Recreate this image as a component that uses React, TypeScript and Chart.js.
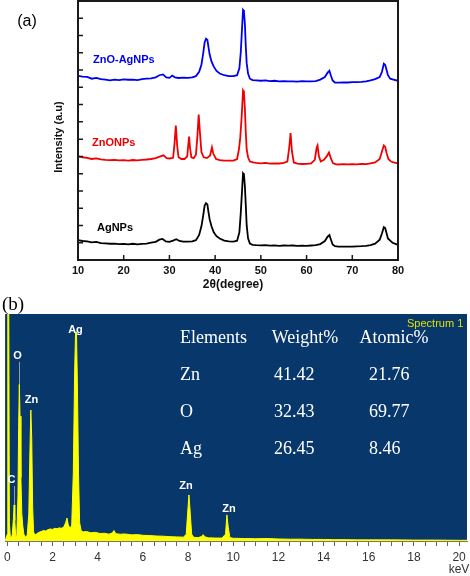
import React, { useEffect, useRef } from 'react';
import { Chart, registerables } from 'chart.js';
Chart.register(...registerables);

// ---------- Panel (a): XRD patterns (2θ in degrees, intensity in a.u.) ----------
const xrdTwoThetaRange = [10, 80];
const xrdSeriesNames = ['ZnO-AgNPs', 'ZnONPs', 'AgNPs'];

const znoAgNPs: [number, number][] = [
  [10, 10.17], [11, 10.12], [12, 10.1], [13, 10.0], [14, 10.05], [15, 9.98], [16, 9.95], [17, 9.9],
  [18, 9.95], [19, 9.92], [20, 9.96], [21, 9.94], [22, 9.95], [23, 9.92], [24, 9.98], [25, 10.0],
  [26, 10.02], [27, 10.08], [27.8, 10.2], [28.6, 10.25], [29.3, 10.08], [30, 10.05], [30.6, 10.18],
  [31.2, 10.08], [32, 10.04], [33, 10.06], [34, 10.05], [35, 10.08], [35.8, 10.15], [36.5, 10.4],
  [37.0, 10.8], [37.4, 11.5], [37.7, 12.1], [38.0, 12.31], [38.3, 12.25], [38.5, 11.9], [38.8, 11.4],
  [39.2, 11.0], [39.7, 10.7], [40.3, 10.45], [41, 10.3], [42, 10.2], [43, 10.15], [44, 10.15],
  [44.8, 10.2], [45.3, 10.6], [45.6, 11.5], [45.9, 13.0], [46.1, 13.98], [46.3, 13.9], [46.5, 13.2],
  [46.7, 11.9], [46.9, 10.9], [47.2, 10.3], [47.6, 10.0], [48.2, 9.92], [49, 9.9], [50, 9.88],
  [51, 9.9], [52, 9.86], [53, 9.88], [54, 9.85], [55, 9.86], [56, 9.84], [57, 9.85], [58, 9.83],
  [59, 9.86], [60, 9.84], [61, 9.85], [62, 9.86], [63, 9.95], [64, 10.1], [64.6, 10.35], [65.0, 10.46],
  [65.3, 10.2], [65.7, 9.9], [66.2, 9.78], [67, 9.77], [68, 9.79], [69, 9.78], [70, 9.8], [71, 9.8],
  [72, 9.82], [73, 9.85], [74, 9.9], [75, 9.98], [76, 10.1], [76.5, 10.4], [76.9, 10.87], [77.2, 10.8],
  [77.5, 10.5], [77.8, 10.2], [78.3, 10.0], [79, 9.95], [80, 9.88],
];

const znoNPs: [number, number][] = [
  [10, 5.5], [11, 5.45], [12, 5.42], [13, 5.35], [14, 5.38], [15, 5.33], [16, 5.3], [17, 5.28],
  [18, 5.3], [19, 5.27], [20, 5.28], [21, 5.26], [22, 5.29], [23, 5.27], [24, 5.3], [25, 5.32],
  [26, 5.35], [27, 5.4], [28, 5.5], [28.7, 5.56], [29.4, 5.4], [30, 5.38], [30.8, 5.42], [31.1, 6.2],
  [31.4, 7.29], [31.7, 6.1], [32.0, 5.45], [32.6, 5.35], [33.3, 5.35], [33.9, 5.5], [34.1, 6.1],
  [34.3, 6.65], [34.5, 6.0], [34.8, 5.45], [35.3, 5.4], [35.8, 5.6], [36.1, 6.6], [36.4, 7.92],
  [36.7, 6.8], [37.0, 5.75], [37.5, 5.45], [38.2, 5.4], [38.9, 5.55], [39.3, 6.02], [39.6, 5.65],
  [40.2, 5.35], [41, 5.28], [42, 5.25], [43, 5.25], [44, 5.26], [44.8, 5.35], [45.2, 5.9], [45.5, 6.6],
  [45.8, 7.8], [46.1, 9.31], [46.3, 9.2], [46.5, 8.3], [46.7, 6.9], [46.9, 5.9], [47.2, 5.45],
  [47.6, 5.2], [48.3, 5.15], [49, 5.12], [50, 5.1], [51, 5.12], [52, 5.08], [53, 5.1], [54, 5.09],
  [55, 5.12], [55.8, 5.2], [56.2, 6.0], [56.5, 6.85], [56.8, 5.8], [57.2, 5.15], [58, 5.08], [59, 5.06],
  [60, 5.07], [61, 5.1], [61.8, 5.3], [62.2, 6.0], [62.4, 6.13], [62.7, 5.5], [63.1, 5.2], [63.8, 5.3],
  [64.4, 5.5], [64.9, 5.73], [65.3, 5.4], [65.8, 5.1], [66.5, 5.04], [67, 5.03], [68, 5.05], [69, 5.04],
  [70, 5.05], [71, 5.04], [72, 5.07], [73, 5.05], [74, 5.1], [75, 5.15], [76, 5.35], [76.5, 5.8],
  [76.9, 6.13], [77.2, 6.05], [77.5, 5.7], [77.9, 5.35], [78.5, 5.2], [79, 5.15], [80, 5.1],
];

const agNPs: [number, number][] = [
  [10, 0.65], [11, 0.6], [12, 0.58], [13, 0.52], [14, 0.55], [15, 0.48], [16, 0.46], [17, 0.44],
  [18, 0.45], [19, 0.42], [20, 0.43], [21, 0.41], [22, 0.44], [23, 0.4], [24, 0.43], [25, 0.45],
  [26, 0.5], [27, 0.55], [27.8, 0.68], [28.5, 0.72], [29.2, 0.58], [30, 0.55], [30.8, 0.62],
  [31.5, 0.7], [32.2, 0.6], [33, 0.56], [34, 0.57], [35, 0.58], [35.8, 0.65], [36.5, 0.95],
  [37.0, 1.45], [37.4, 2.1], [37.7, 2.65], [38.0, 2.79], [38.3, 2.72], [38.5, 2.35], [38.8, 1.85],
  [39.2, 1.45], [39.7, 1.1], [40.3, 0.88], [41, 0.74], [42, 0.62], [43, 0.58], [44, 0.57], [44.8, 0.62],
  [45.3, 1.1], [45.6, 2.2], [45.9, 3.6], [46.1, 4.52], [46.3, 4.45], [46.5, 3.8], [46.7, 2.7],
  [46.9, 1.5], [47.2, 0.75], [47.6, 0.45], [48.2, 0.38], [49, 0.36], [50, 0.35], [51, 0.36], [52, 0.33],
  [53, 0.35], [54, 0.32], [55, 0.34], [56, 0.33], [57, 0.34], [58, 0.32], [59, 0.33], [60, 0.32],
  [61, 0.34], [62, 0.36], [63, 0.42], [64, 0.6], [64.6, 0.85], [65.0, 0.94], [65.3, 0.7], [65.7, 0.4],
  [66.2, 0.3], [67, 0.27], [68, 0.28], [69, 0.27], [70, 0.28], [71, 0.29], [72, 0.3], [73, 0.32],
  [74, 0.36], [75, 0.45], [76, 0.68], [76.5, 1.05], [76.9, 1.4], [77.2, 1.35], [77.5, 1.05],
  [77.8, 0.75], [78.3, 0.62], [78.8, 0.5], [79.3, 0.45], [80, 0.38],
];

// ---------- Panel (b): EDS spectrum (keV, counts in % of full scale) ----------
const edsEnergyRange = [-0.1, 20.35];
const edsSpectrum: [number, number][] = [
  [-0.1, 0], [0.0, 3], [0.02, 110], [0.06, 110], [0.09, 8], [0.13, 2], [0.18, 1.5], [0.22, 3],
  [0.27, 10], [0.3, 15.9], [0.33, 9], [0.37, 2], [0.42, 2.5], [0.47, 20], [0.5, 50], [0.53, 69],
  [0.56, 55], [0.6, 28], [0.64, 12], [0.68, 7], [0.73, 3], [0.8, 1.8], [0.88, 2.5], [0.95, 12],
  [1.0, 40], [1.04, 57.7], [1.08, 45], [1.12, 15], [1.16, 4], [1.22, 2.6], [1.3, 3.2], [1.4, 3.8],
  [1.5, 4.2], [1.6, 4.6], [1.7, 4.4], [1.8, 5], [1.9, 5.3], [2.0, 5.1], [2.1, 5.6], [2.2, 5.4],
  [2.3, 5.8], [2.4, 5.6], [2.5, 6.2], [2.58, 8], [2.64, 10.1], [2.7, 7], [2.78, 5.5], [2.85, 7],
  [2.92, 30], [2.98, 75], [3.02, 92], [3.06, 92], [3.1, 70], [3.15, 30], [3.2, 8], [3.27, 4.5],
  [3.35, 4], [3.5, 4.2], [3.7, 3.6], [3.9, 3.8], [4.1, 3.3], [4.3, 3.4], [4.5, 3.0], [4.65, 3.6],
  [4.72, 4.6], [4.8, 3.2], [5.0, 3.0], [5.2, 3.1], [5.5, 2.7], [5.8, 2.8], [6.0, 2.5], [6.3, 2.4],
  [6.6, 2.2], [6.9, 2.1], [7.2, 1.9], [7.5, 1.8], [7.8, 1.7], [7.92, 3], [7.98, 12], [8.04, 20.3],
  [8.1, 12], [8.16, 3], [8.25, 1.6], [8.45, 1.5], [8.6, 2.0], [8.67, 2.8], [8.75, 1.8], [8.9, 1.4],
  [9.2, 1.3], [9.5, 1.3], [9.66, 3], [9.72, 11.5], [9.78, 6], [9.85, 1.5], [10.0, 1.2], [10.5, 1.1],
  [11.0, 1.0], [11.5, 1.1], [12.0, 0.9], [12.5, 0.8], [13.0, 0.8], [13.5, 0.7], [14.0, 0.7],
  [14.5, 0.6], [15.0, 0.6], [15.5, 0.5], [16.0, 0.5], [17.0, 0.5], [18.0, 0.4], [19.0, 0.4],
  [20.0, 0.3], [20.35, 0.3],
];

const tableHeaders = ['Elements', 'Weight%', 'Atomic%'];
const tableElements = ['Zn', 'O', 'Ag'];
const tableWeight = ['41.42', '32.43', '26.45'];
const tableAtomic = ['21.76', '69.77', '8.46'];
const edsPeakLabels = ['Ag', 'O', 'Zn', 'C', 'Zn', 'Zn'];

const SANS = '"Liberation Sans", Arial, Helvetica, sans-serif';
const SERIF = '"Liberation Serif", "Times New Roman", serif';

const xrdDecor = {
  id: 'xrdDecor',
  afterDraw(chart: any) {
    const { ctx, chartArea: a, scales } = chart;
    const xs = scales.x;
    const ys = scales.y;
    ctx.save();
    ctx.strokeStyle = '#1a1a1a';
    ctx.lineWidth = 2;
    ctx.strokeRect(a.left, a.top, a.right - a.left, a.bottom - a.top);
    ctx.lineWidth = 1.5;
    ctx.beginPath();
    xs.ticks.forEach((t: any) => {
      const px = xs.getPixelForValue(t.value);
      ctx.moveTo(px, a.bottom);
      ctx.lineTo(px, a.bottom - 5);
    });
    ys.ticks.forEach((t: any) => {
      const py = ys.getPixelForValue(t.value);
      ctx.moveTo(a.left, py);
      ctx.lineTo(a.left + 5, py);
    });
    ctx.stroke();

    ctx.textBaseline = 'middle';
    ctx.font = `bold 11px ${SANS}`;
    ctx.textAlign = 'left';
    ctx.fillStyle = '#0000ee';
    ctx.fillText(xrdSeriesNames[0], 93, 60);
    ctx.fillStyle = '#ee0000';
    ctx.fillText(xrdSeriesNames[1], 92, 143);
    ctx.fillStyle = '#000';
    ctx.fillText(xrdSeriesNames[2], 97, 228);

    ctx.textAlign = 'center';
    ctx.font = `bold 12px ${SANS}`;
    ctx.fillStyle = '#111';
    ctx.fillText('2θ(degree)', 233, 285);

    ctx.font = `16px ${SANS}`;
    ctx.fillStyle = '#000';
    ctx.fillText('(a)', 27, 22);

    ctx.save();
    ctx.translate(59, 137);
    ctx.rotate(-Math.PI / 2);
    ctx.font = `bold 11px ${SANS}`;
    ctx.fillStyle = '#111';
    ctx.fillText('Intensity (a.u)', 0, 0);
    ctx.restore();
    ctx.restore();
  },
};

const OFF_B = 280;
const edsDecor = {
  id: 'edsDecor',
  beforeDatasetsDraw(chart: any) {
    const { ctx, chartArea: a } = chart;
    ctx.save();
    ctx.fillStyle = '#08386b';
    ctx.fillRect(a.left, a.top, a.right - a.left, a.bottom - a.top);
    ctx.restore();
  },
  afterDraw(chart: any) {
    const { ctx, scales } = chart;
    const xs = scales.x;
    const Y = (v: number) => v - OFF_B;
    ctx.save();
    ctx.strokeStyle = '#9a9a9a';
    ctx.lineWidth = 1;
    ctx.beginPath();
    const xo = Math.round(xs.getPixelForValue(0.53)) + 0.5;
    ctx.moveTo(xo, Y(362));
    ctx.lineTo(xo, Y(384));
    const xc = Math.round(xs.getPixelForValue(0.3)) + 0.5;
    ctx.moveTo(xc, Y(486));
    ctx.lineTo(xc, Y(505));
    ctx.stroke();

    ctx.textBaseline = 'middle';
    ctx.textAlign = 'left';
    ctx.font = `19px ${SERIF}`;
    ctx.fillStyle = '#000';
    ctx.fillText('(b)', 2, Y(305));

    ctx.font = `11px ${SANS}`;
    ctx.fillStyle = '#e0e000';
    ctx.fillText('Spectrum 1', 407, Y(324));

    ctx.font = `bold 11px ${SANS}`;
    ctx.fillStyle = '#ffffff';
    ctx.textAlign = 'center';
    const peakPos = [[75.5, 330], [17.5, 356], [31.5, 400], [11.5, 480], [186, 486], [229, 509]];
    edsPeakLabels.forEach((t, i) => ctx.fillText(t, peakPos[i][0], Y(peakPos[i][1])));

    ctx.font = `18px ${SERIF}`;
    ctx.fillStyle = '#ffffff';
    ctx.textAlign = 'left';
    ctx.fillText(tableHeaders[0], 180, Y(338));
    ctx.textAlign = 'center';
    ctx.fillText(tableHeaders[1], 305, Y(338));
    ctx.fillText(tableHeaders[2], 394, Y(338));
    const rowsY = [375, 412, 449];
    ctx.textAlign = 'left';
    tableElements.forEach((e, i) => {
      ctx.fillText(e, 180, Y(rowsY[i]));
      ctx.fillText(tableWeight[i], 274, Y(rowsY[i]));
      ctx.fillText(tableAtomic[i], 369, Y(rowsY[i]));
    });

    ctx.font = `12px ${SANS}`;
    ctx.fillStyle = '#333';
    ctx.textAlign = 'center';
    ctx.fillText('keV', 459, Y(570));
    ctx.restore();
  },
};

function XrdChart() {
  const ref = useRef<HTMLCanvasElement>(null);
  useEffect(() => {
    if (!ref.current) return;
    const mk = (d: [number, number][]) => d.map(([x, y]) => ({ x, y }));
    const chart = new Chart(ref.current, {
      type: 'line',
      data: {
        datasets: [
          { data: mk(znoAgNPs), borderColor: '#0000f0', borderWidth: 1.8, pointRadius: 0, tension: 0, fill: false },
          { data: mk(znoNPs), borderColor: '#f00000', borderWidth: 1.8, pointRadius: 0, tension: 0, fill: false },
          { data: mk(agNPs), borderColor: '#000000', borderWidth: 1.8, pointRadius: 0, tension: 0, fill: false },
        ],
      },
      options: {
        animation: false,
        responsive: false,
        layout: { padding: { left: 0, top: 1, right: 72, bottom: 0 } },
        plugins: { legend: { display: false }, tooltip: { enabled: false } },
        scales: {
          x: {
            type: 'linear',
            min: xrdTwoThetaRange[0],
            max: xrdTwoThetaRange[1],
            afterFit: (s: any) => { s.height = 40; },
            grid: { display: false, drawTicks: false },
            border: { display: false },
            ticks: {
              stepSize: 10,
              maxRotation: 0,
              padding: 4,
              color: '#111',
              font: { family: SANS, size: 11, weight: 'bold' },
            },
          },
          y: {
            type: 'linear',
            min: -0.5,
            max: 14.5,
            afterFit: (s: any) => { s.width = 78; },
            grid: { display: false, drawTicks: false },
            border: { display: false },
            ticks: { display: false, stepSize: 1, includeBounds: false },
          },
        },
      } as any,
      plugins: [xrdDecor],
    });
    return () => chart.destroy();
  }, []);
  return (
    <canvas ref={ref} width={470} height={300}
      style={{ position: 'absolute', left: 0, top: 0, width: 470, height: 300 }} />
  );
}

function EdsChart() {
  const ref = useRef<HTMLCanvasElement>(null);
  useEffect(() => {
    if (!ref.current) return;
    const chart = new Chart(ref.current, {
      type: 'line',
      data: {
        datasets: [
          {
            data: edsSpectrum.map(([x, y]) => ({ x, y })),
            borderColor: '#ffff00',
            backgroundColor: '#ffff00',
            borderWidth: 1,
            pointRadius: 0,
            tension: 0,
            fill: 'origin',
            clip: 0,
          },
        ],
      },
      options: {
        animation: false,
        responsive: false,
        layout: { padding: { left: 3, top: 34, right: 3, bottom: 0 } },
        plugins: { legend: { display: false }, tooltip: { enabled: false } },
        scales: {
          x: {
            type: 'linear',
            min: edsEnergyRange[0],
            max: edsEnergyRange[1],
            afterFit: (s: any) => { s.height = 35; },
            grid: { display: true, drawOnChartArea: false, drawTicks: true, tickLength: 5, color: '#666', lineWidth: 1 },
            border: { display: true, color: '#777', width: 1 },
            ticks: {
              stepSize: 0.5,
              maxTicksLimit: 100,
              includeBounds: false,
              autoSkip: false,
              maxRotation: 0,
              padding: 4,
              color: '#333',
              font: { family: SANS, size: 12 },
              callback: (v: any) => (Math.abs(Number(v) % 2) < 1e-6 ? String(v) : ''),
            },
          },
          y: { display: false, min: 0, max: 100 },
        },
      } as any,
      plugins: [edsDecor],
    });
    return () => chart.destroy();
  }, []);
  return (
    <canvas ref={ref} width={470} height={296}
      style={{ position: 'absolute', left: 0, top: OFF_B, width: 470, height: 296 }} />
  );
}

export default function App() {
  return (
    <div style={{ position: 'absolute', left: 0, top: 0, width: 470, height: 576, background: '#fff', overflow: 'hidden' }}>
      <XrdChart />
      <EdsChart />
    </div>
  );
}
